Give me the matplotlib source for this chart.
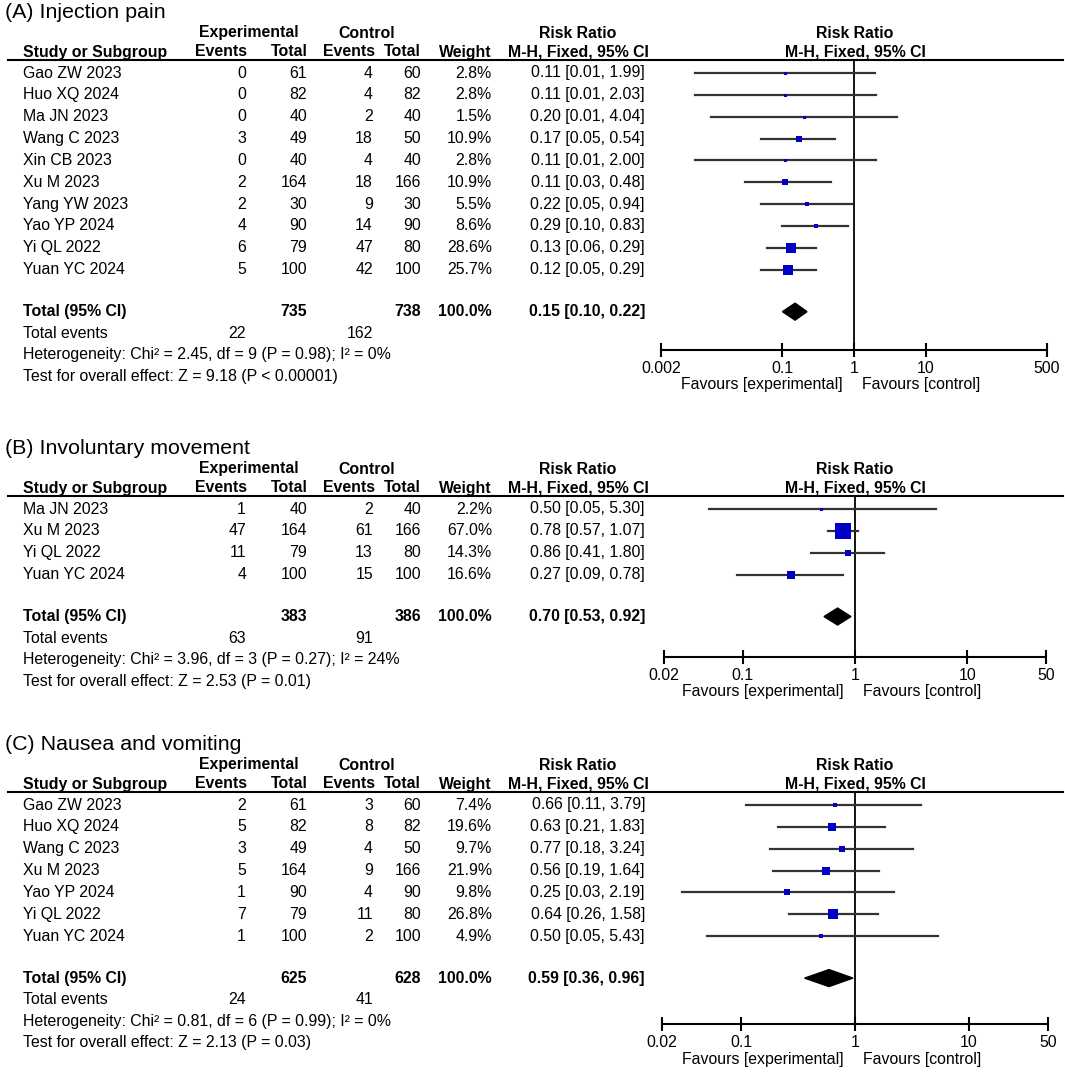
import matplotlib
matplotlib.use('Agg')
import matplotlib.pyplot as plt
import numpy as np

plt.rcParams['font.family'] = ['Liberation Sans', 'DejaVu Sans']

# ---- data: (A) injection pain
a_study = ['Gao ZW 2023', 'Huo XQ 2024', 'Ma JN 2023', 'Wang C 2023', 'Xin CB 2023',
           'Xu M 2023', 'Yang YW 2023', 'Yao YP 2024', 'Yi QL 2022', 'Yuan YC 2024']
a_exp_ev = [0, 0, 0, 3, 0, 2, 2, 4, 6, 5]
a_exp_n = [61, 82, 40, 49, 40, 164, 30, 90, 79, 100]
a_ctl_ev = [4, 4, 2, 18, 4, 18, 9, 14, 47, 42]
a_ctl_n = [60, 82, 40, 50, 40, 166, 30, 90, 80, 100]
a_weight = [2.8, 2.8, 1.5, 10.9, 2.8, 10.9, 5.5, 8.6, 28.6, 25.7]
a_rr = [0.11, 0.11, 0.20, 0.17, 0.11, 0.11, 0.22, 0.29, 0.13, 0.12]
a_lo = [0.006, 0.006, 0.01, 0.05, 0.006, 0.03, 0.05, 0.10, 0.06, 0.05]
a_hi = [1.99, 2.03, 4.04, 0.54, 2.00, 0.48, 0.94, 0.83, 0.29, 0.29]
a_total = [735, 738, 22, 162]
a_pooled = [0.15, 0.10, 0.22]
a_het = 'Heterogeneity: Chi² = 2.45, df = 9 (P = 0.98); I² = 0%'
a_test = 'Test for overall effect: Z = 9.18 (P < 0.00001)'
a_ticks = [0.002, 0.1, 1, 10, 500]
a_ticklabels = ['0.002', '0.1', '1', '10', '500']

# ---- data: (B) involuntary movement
b_study = ['Ma JN 2023', 'Xu M 2023', 'Yi QL 2022', 'Yuan YC 2024']
b_exp_ev = [1, 47, 11, 4]
b_exp_n = [40, 164, 79, 100]
b_ctl_ev = [2, 61, 13, 15]
b_ctl_n = [40, 166, 80, 100]
b_weight = [2.2, 67.0, 14.3, 16.6]
b_rr = [0.50, 0.78, 0.86, 0.27]
b_lo = [0.05, 0.57, 0.41, 0.09]
b_hi = [5.30, 1.07, 1.80, 0.78]
b_total = [383, 386, 63, 91]
b_pooled = [0.70, 0.53, 0.92]
b_het = 'Heterogeneity: Chi² = 3.96, df = 3 (P = 0.27); I² = 24%'
b_test = 'Test for overall effect: Z = 2.53 (P = 0.01)'
b_ticks = [0.02, 0.1, 1, 10, 50]
b_ticklabels = ['0.02', '0.1', '1', '10', '50']

# ---- data: (C) nausea and vomiting
c_study = ['Gao ZW 2023', 'Huo XQ 2024', 'Wang C 2023', 'Xu M 2023',
           'Yao YP 2024', 'Yi QL 2022', 'Yuan YC 2024']
c_exp_ev = [2, 5, 3, 5, 1, 7, 1]
c_exp_n = [61, 82, 49, 164, 90, 79, 100]
c_ctl_ev = [3, 8, 4, 9, 4, 11, 2]
c_ctl_n = [60, 82, 50, 166, 90, 80, 100]
c_weight = [7.4, 19.6, 9.7, 21.9, 9.8, 26.8, 4.9]
c_rr = [0.66, 0.63, 0.77, 0.56, 0.25, 0.64, 0.50]
c_lo = [0.11, 0.21, 0.18, 0.19, 0.03, 0.26, 0.05]
c_hi = [3.79, 1.83, 3.24, 1.64, 2.19, 1.58, 5.43]
c_total = [625, 628, 24, 41]
c_pooled = [0.59, 0.36, 0.96]
c_het = 'Heterogeneity: Chi² = 0.81, df = 6 (P = 0.99); I² = 0%'
c_test = 'Test for overall effect: Z = 2.13 (P = 0.03)'
c_ticks = [0.02, 0.1, 1, 10, 50]
c_ticklabels = ['0.02', '0.1', '1', '10', '50']

# line_y = header rule, axis_off = distance of log axis below total row
panels = [
    dict(title='(A) Injection pain', line_y=60, axis_off=38, x0=661, x1=1047,
         study=a_study, ee=a_exp_ev, en=a_exp_n, ce=a_ctl_ev, cn=a_ctl_n, w=a_weight,
         rr=a_rr, lo=a_lo, hi=a_hi, tot=a_total, pool=a_pooled, het=a_het, test=a_test,
         ticks=a_ticks, tl=a_ticklabels),
    dict(title='(B) Involuntary movement', line_y=496, axis_off=40, x0=664, x1=1046,
         study=b_study, ee=b_exp_ev, en=b_exp_n, ce=b_ctl_ev, cn=b_ctl_n, w=b_weight,
         rr=b_rr, lo=b_lo, hi=b_hi, tot=b_total, pool=b_pooled, het=b_het, test=b_test,
         ticks=b_ticks, tl=b_ticklabels),
    dict(title='(C) Nausea and vomiting', line_y=792, axis_off=46, x0=662, x1=1048,
         study=c_study, ee=c_exp_ev, en=c_exp_n, ce=c_ctl_ev, cn=c_ctl_n, w=c_weight,
         rr=c_rr, lo=c_lo, hi=c_hi, tot=c_total, pool=c_pooled, het=c_het, test=c_test,
         ticks=c_ticks, tl=c_ticklabels),
]

W, H = 1065, 1077
fs = 11.4
blue = '#0000c8'
lcol = '#333333'
# column right edges (px)
col_ee, col_en, col_ce, col_cn, col_w, col_ci = 246, 307, 373, 421, 492, 645
col_left = 23
rr_center = 578
step = 21.85

fig = plt.figure(figsize=(W / 100, H / 100), dpi=100)
base = fig.add_axes([0, 0, 1, 1])
base.set_xlim(0, W)
base.set_ylim(H, 0)
base.axis('off')


def txt(x, y, s, ha='left', bold=False, size=fs):
    base.text(x, y, s, ha=ha, va='center', fontsize=size,
              fontweight='bold' if bold else 'normal', color='black')


for p in panels:
    line_y = p['line_y']
    t, h1, h2, row0 = line_y - 47, line_y - 27, line_y - 8, line_y + 13
    txt(5, t, p['title'], size=15.4)
    txt(249, h1, 'Experimental', ha='center', bold=True)
    txt(367, h1, 'Control', ha='center', bold=True)
    txt(rr_center, h1, 'Risk Ratio', ha='center', bold=True)
    txt(855, h1, 'Risk Ratio', ha='center', bold=True)
    txt(col_left, h2, 'Study or Subgroup', bold=True)
    txt(col_ee + 1, h2, 'Events', ha='right', bold=True)
    txt(col_en + 1, h2, 'Total', ha='right', bold=True)
    txt(col_ce + 2, h2, 'Events', ha='right', bold=True)
    txt(col_cn, h2, 'Total', ha='right', bold=True)
    txt(col_w, h2, 'Weight', ha='right', bold=True)
    txt(rr_center, h2, 'M-H, Fixed, 95% CI', ha='center', bold=True)
    txt(855, h2, 'M-H, Fixed, 95% CI', ha='center', bold=True)
    base.plot([8, 1063], [line_y, line_y], color='black', lw=1.5)

    n = len(p['study'])
    ys = [row0 + i * step for i in range(n)]
    for i in range(n):
        y = ys[i]
        txt(col_left, y, p['study'][i])
        txt(col_ee, y, str(p['ee'][i]), ha='right')
        txt(col_en, y, str(p['en'][i]), ha='right')
        txt(col_ce, y, str(p['ce'][i]), ha='right')
        txt(col_cn, y, str(p['cn'][i]), ha='right')
        txt(col_w, y, f"{p['w'][i]:.1f}%", ha='right')
        txt(col_ci, y, f"{p['rr'][i]:.2f} [{p['lo'][i]:.2f}, {p['hi'][i]:.2f}]", ha='right')

    ty = ys[-1] + 42
    tot = p['tot']
    pr, pl, ph = p['pool']
    txt(col_left, ty, 'Total (95% CI)', bold=True)
    txt(col_en, ty, str(tot[0]), ha='right', bold=True)
    txt(col_cn, ty, str(tot[1]), ha='right', bold=True)
    txt(col_w, ty, '100.0%', ha='right', bold=True)
    txt(col_ci, ty, f"{pr:.2f} [{pl:.2f}, {ph:.2f}]", ha='right', bold=True)
    txt(col_left, ty + 21.5, 'Total events')
    txt(col_ee, ty + 21.5, str(tot[2]), ha='right')
    txt(col_ce, ty + 21.5, str(tot[3]), ha='right')
    txt(col_left, ty + 43, p['het'])
    txt(col_left, ty + 64.5, p['test'])

    # forest part
    axis_y = ty + p['axis_off']
    ax = fig.add_axes([p['x0'] / W, 1 - axis_y / H, (p['x1'] - p['x0']) / W,
                       (axis_y - line_y) / H])
    ax.patch.set_alpha(0)
    ax.set_xscale('log')
    ax.set_xlim(p['ticks'][0], p['ticks'][-1])
    ax.set_ylim(axis_y, line_y)
    for s in ['top', 'left', 'right']:
        ax.spines[s].set_visible(False)
    ax.spines['bottom'].set_linewidth(1.5)
    ax.set_yticks([])
    ax.set_xticks(p['ticks'])
    ax.set_xticklabels(p['tl'])
    ax.xaxis.set_minor_locator(matplotlib.ticker.NullLocator())
    ax.tick_params(axis='x', direction='inout', length=10, width=1.5,
                   pad=3, labelsize=fs)
    ax.axvline(1, color='black', lw=1.3, zorder=1)
    for i in range(n):
        ax.plot([p['lo'][i], p['hi'][i]], [ys[i], ys[i]], color=lcol, lw=1.6,
                zorder=2, clip_on=False)
        side = max(3.0, 2.2 * np.sqrt(p['w'][i]) - 1.5) * 0.72
        ax.plot(p['rr'][i], ys[i], 's', ms=side, color=blue, mec=blue, mew=0,
                zorder=3, clip_on=False)
    ax.fill([pl, pr, ph, pr], [ty, ty - 8.5, ty, ty + 8.5], color='black',
            zorder=3, clip_on=False)
    ax.annotate('Favours [experimental]', xy=(1, 0), xycoords=('data', 'axes fraction'),
                xytext=(-11, -35), textcoords='offset pixels', ha='right',
                va='center', fontsize=fs)
    ax.annotate('Favours [control]', xy=(1, 0), xycoords=('data', 'axes fraction'),
                xytext=(8, -35), textcoords='offset pixels', ha='left',
                va='center', fontsize=fs)

fig.savefig('out.png', dpi=100)
